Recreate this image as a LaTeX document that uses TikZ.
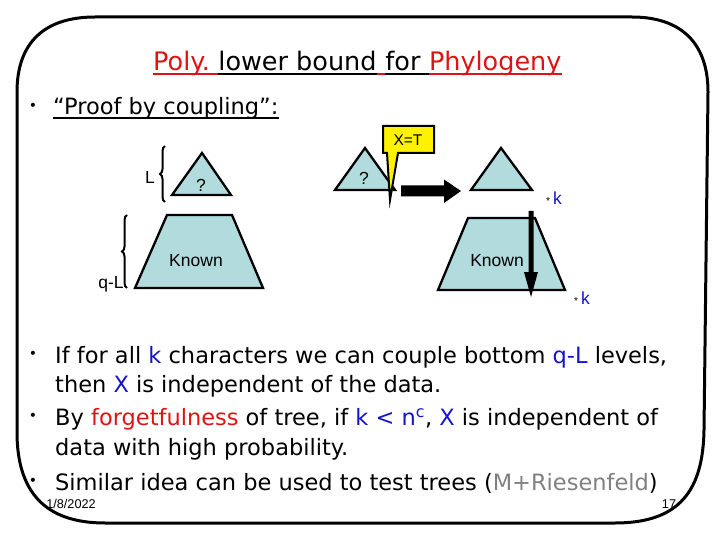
\documentclass[tikz,border=0pt]{standalone}
\usepackage{fontspec}
\setmainfont{DejaVu Sans}
\newfontfamily\arialf{Liberation Sans}
\usetikzlibrary{decorations.pathreplacing}
\definecolor{tribg}{RGB}{178,219,222}
\definecolor{tred}{RGB}{220,20,20}
\definecolor{tblue}{RGB}{20,20,200}
\definecolor{tgray}{RGB}{128,128,128}
\newcommand{\myspc}{\mbox{\ }}
\tikzset{
  frame/.style={line width=3pt, line join=round},
  tri/.style={fill=tribg, draw=black, line width=2.3pt, line join=miter},
  ttl/.style={inner sep=0pt, anchor=base west, font=\fontsize{25.5}{30}\selectfont},
  body/.style={inner sep=0pt, anchor=base west, font=\fontsize{22.5}{27}\selectfont},
  bul/.style={inner sep=0pt, font=\fontsize{14}{16}\selectfont},
  lbl/.style={inner sep=0pt, font=\arialf\fontsize{17.5}{20}\selectfont},
  ulr/.style={tred, line width=2.4pt},
  ulb/.style={black, line width=2.4pt},
  brc/.style={decorate, decoration={brace, amplitude=5pt}, line width=2pt},
  small/.style={inner sep=0pt, font=\arialf\fontsize{12.7}{14}\selectfont}
}
\begin{document}
\begin{tikzpicture}[x=1pt,y=-1pt]
\useasboundingbox (0,0) rectangle (720,540);
% frame
\draw[frame] (17,92) .. controls (17,42) and (45,17) .. (95,17) -- (632,17)
  .. controls (680,17) and (708,42) .. (708,92) -- (704,430)
  .. controls (703,490) and (680,523) .. (615,523) -- (105,523)
  .. controls (45,523) and (17,492) .. (17,432) -- cycle;
% title
\node[ttl, text=tred] (t1) at (153,71) {Poly.\myspc};
\node[ttl] (t2) at (t1.base east) {lower bound};
\node[ttl] (t3) at (t2.base east) {\myspc};
\node[ttl] (t4) at (t3.base east) {for\myspc};
\node[ttl, text=tred] (t5) at (t4.base east) {Phylogeny};
\draw[ulr] ([yshift=-3pt]t1.base west) -- ([yshift=-3pt]t1.base east);
\draw[ulb] ([yshift=-3pt]t2.base west) -- ([yshift=-3pt]t2.base east);
\draw[ulr] ([yshift=-3pt]t3.base west) -- ([yshift=-3pt]t3.base east);
\draw[ulb] ([yshift=-3pt]t4.base west) -- ([yshift=-3pt]t4.base east);
\draw[ulr] ([yshift=-3pt]t5.base west) -- ([yshift=-3pt]t5.base east);
% proof by coupling
\node[bul] (b0) at (33,107) {•};
\node[body] (p1) at (53,115) {“Proof by coupling”:};
\draw[ulb] ([yshift=-3pt]p1.base west) -- ([yshift=-3pt]p1.base east);
% left diagram
\draw[tri] (172,195) -- (202,153) -- (231,195) -- cycle;
\node[lbl] (q1) at (201,185) {?};
\draw[tri] (135,288) -- (167,215) -- (232,215) -- (263,288) -- cycle;
\node[lbl] (kn1) at (196,261) {Known};
\draw[brc] (165,202) -- (165,146);
\node[lbl] (lL) at (150,177) {L};
\draw[brc] (127,288) -- (127,215);
\node[lbl] (lqL) at (111,284) {q-L};
% right diagram
\draw[tri] (335,190) -- (365,148) -- (395,190) -- cycle;
\node[lbl] (q2) at (364,178) {?};
\draw[fill=yellow, line width=2pt, line join=miter] (383,126) -- (434,126) -- (434,153) -- (398,153)
  -- (390,200) -- (387,153) -- (383,153) -- cycle;
\node[lbl, font=\arialf\fontsize{15.5}{18}\selectfont] (xt) at (408,140) {X=T};
\coordinate (ha) at (401,191);
\fill (ha) ++(0,-5.5) -- ++(43,0) -- ++(0,-6) -- (461,191) -- (444,203) -- (444,196.5) -- (401,196.5) -- cycle;
\draw[tri] (471,190) -- (501,148) -- (532,190) -- cycle;
\node[lbl, anchor=west] (k1) at (546,198) {{\fontsize{10}{10}\selectfont *}\,\textcolor{tblue}{k}};
\draw[tri] (438,290) -- (468,218) -- (535,218) -- (565,290) -- cycle;
\node[lbl] (kn2) at (497,261) {Known};
\fill (528.5,211) -- (533.5,211) -- (533.5,272) -- (538,272) -- (531,297) -- (524,272) -- (528.5,272) -- cycle;
\node[lbl, anchor=west] (k2) at (574,298) {{\fontsize{10}{10}\selectfont *}\,\textcolor{tblue}{k}};
% body
\node[bul] (b1) at (33,355) {•};
\node[body] (l1) at (55,363) {If for all \textcolor{tblue}{k} characters we can couple bottom \textcolor{tblue}{q-L} levels,};
\node[body] (l2) at (55,392) {then \textcolor{tblue}{X} is independent of the data.};
\node[bul] (b2) at (33,417) {•};
\node[body] (l3) at (55,425) {By \textcolor{tred}{forgetfulness} of tree, if \textcolor{tblue}{k < n\textsuperscript{c}}, \textcolor{tblue}{X} is independent of};
\node[body] (l4) at (55,455) {data with high probability.};
\node[bul] (b3) at (33,482) {•};
\node[body] (l5) at (55,490) {Similar idea can be used to test trees (\textcolor{tgray}{M+Riesenfeld})};
\node[small] (date) at (71,504) {1/8/2022};
\node[small] (pg) at (669,504) {17};
\end{tikzpicture}
\end{document}
